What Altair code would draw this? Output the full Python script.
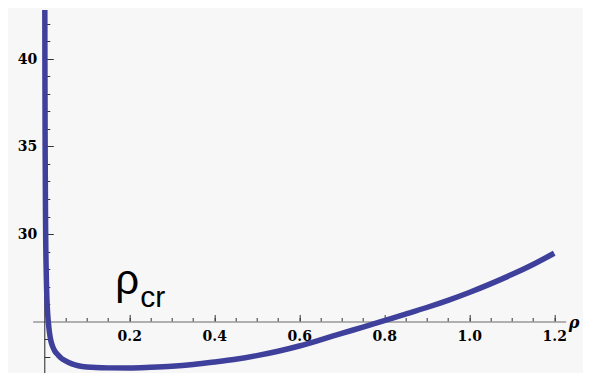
import altair as alt
import pandas as pd

# curve
rho = [0.001, 0.0012, 0.0015, 0.002, 0.003, 0.005, 0.0075, 0.0094, 0.012, 0.015,
       0.02, 0.025, 0.032, 0.04, 0.05, 0.065, 0.08, 0.1, 0.15, 0.2,
       0.25, 0.3, 0.35, 0.4, 0.45, 0.5, 0.55, 0.6, 0.65, 0.7,
       0.75, 0.8, 0.85, 0.9, 0.95, 1.0, 1.05, 1.1, 1.15, 1.2]
value = [47.3, 43.1, 39.0, 34.8, 30.6, 27.3, 25.6, 25.0, 24.4, 23.95,
         23.55, 23.3, 23.1, 22.9, 22.75, 22.58, 22.47, 22.4, 22.35, 22.34,
         22.38, 22.44, 22.54, 22.68, 22.84, 23.05, 23.3, 23.6, 23.95, 24.32,
         24.68, 25.05, 25.42, 25.8, 26.21, 26.66, 27.15, 27.68, 28.26, 28.9]

x_major = [0.2, 0.4, 0.6, 0.8, 1.0, 1.2]
x_minor = [0.05, 0.1, 0.15, 0.2, 0.25, 0.3, 0.35, 0.4, 0.45, 0.5, 0.55, 0.6,
           0.65, 0.7, 0.75, 0.8, 0.85, 0.9, 0.95, 1.0, 1.05, 1.1, 1.15, 1.2]
y_major = [30, 35, 40]
y_minor = [23, 24, 26, 27, 28, 29, 30, 31, 32, 33, 34, 35, 36, 37, 38, 39, 40, 41, 42]

x_domain = [-0.0273, 1.227]
y_domain = [22.0, 42.8]
axis_cross_y = 25   # x axis drawn at this value
axis_cross_x = 0    # y axis drawn at this value

ann_rho_text = ["ρ"]
ann_rho_x = [0.195]
ann_rho_y = [26.6]
ann_cr_text = ["cr"]
ann_cr_x = [0.226]
ann_cr_y = [25.84]

W, H = 533, 364
px_x = W / (x_domain[1] - x_domain[0])
px_y = H / (y_domain[1] - y_domain[0])
x_axis_offset = -(y_domain[1] - axis_cross_y) * px_y
y_axis_offset = -(x_domain[1] - axis_cross_x) * px_x

df = pd.DataFrame({"rho": rho, "v": value})

xs = alt.Scale(domain=x_domain, nice=False, zero=False)
ys = alt.Scale(domain=y_domain, nice=False, zero=False)

label_font = "DejaVu Serif"
curve_color = "#3f3f9c"

x_major_axis = alt.Axis(
    orient="top", offset=x_axis_offset, values=x_major, format=".1f",
    tickSize=7, tickColor="#333333", tickWidth=1,
    domain=True, domainColor="#999999", domainWidth=1.5,
    labelFont=label_font, labelFontWeight="bold", labelFontSize=14, labelColor="#000000",
    labelBaseline="top", labelPadding=-15.3, labelFlush=False, labelOverlap=False,
    grid=False,
    title="ρ", titleFont=label_font, titleFontStyle="italic", titleFontWeight="bold",
    titleFontSize=16, titleColor="#000000", titleAlign="left", titleBaseline="alphabetic",
    titleAnchor="start", titleX=535.5, titleY=5.5, titleAngle=0,
)
x_minor_axis = alt.Axis(
    orient="top", offset=x_axis_offset, values=x_minor, labels=False,
    tickSize=4, tickColor="#333333", tickWidth=1, domain=False, grid=False, title=None,
)
y_major_axis = alt.Axis(
    orient="right", offset=y_axis_offset, values=y_major, format="d",
    tickSize=9, tickColor="#333333", tickWidth=1,
    domain=True, domainColor="#222222", domainWidth=1,
    labelFont=label_font, labelFontWeight="bold", labelFontSize=14, labelColor="#000000",
    labelAlign="right", labelBaseline="middle", labelPadding=-16.6,
    labelFlush=False, labelOverlap=False, grid=False, title=None,
)
y_minor_axis = alt.Axis(
    orient="right", offset=y_axis_offset, values=y_minor, labels=False,
    tickSize=5.5, tickColor="#333333", tickWidth=1, domain=False, grid=False, title=None,
)

minor = alt.Chart(df).mark_line(opacity=0).encode(
    x=alt.X("rho:Q", scale=xs, axis=x_minor_axis),
    y=alt.Y("v:Q", scale=ys, axis=y_minor_axis),
)

curve = alt.Chart(df).mark_line(
    color=curve_color, strokeWidth=5.5, clip=True, interpolate="monotone",
    strokeCap="butt", strokeJoin="round",
).encode(
    x=alt.X("rho:Q", scale=xs, axis=x_major_axis),
    y=alt.Y("v:Q", scale=ys, axis=y_major_axis),
)

rho_lbl = alt.Chart(pd.DataFrame({"t": ann_rho_text, "x": ann_rho_x, "y": ann_rho_y})).mark_text(
    font="Liberation Sans", fontSize=42, align="center", baseline="alphabetic", color="#000000",
).encode(
    x=alt.X("x:Q", scale=xs, axis=None),
    y=alt.Y("y:Q", scale=ys, axis=None),
    text="t:N",
)
cr_lbl = alt.Chart(pd.DataFrame({"t": ann_cr_text, "x": ann_cr_x, "y": ann_cr_y})).mark_text(
    font="Liberation Sans", fontSize=30, align="left", baseline="alphabetic", color="#000000",
).encode(
    x=alt.X("x:Q", scale=xs, axis=None),
    y=alt.Y("y:Q", scale=ys, axis=None),
    text="t:N",
)

chart = alt.layer(minor, curve, rho_lbl, cr_lbl).resolve_axis(
    x="independent", y="independent"
).properties(
    width=W, height=H,
    autosize=alt.AutoSizeParams(type="none"),
    padding={"left": 24.7, "top": 2, "right": 17.3, "bottom": 0},
    background="#f7f7f7",
).configure_view(stroke=None)

chart.save("out.html", embed_options={"renderer": "svg", "actions": False})
